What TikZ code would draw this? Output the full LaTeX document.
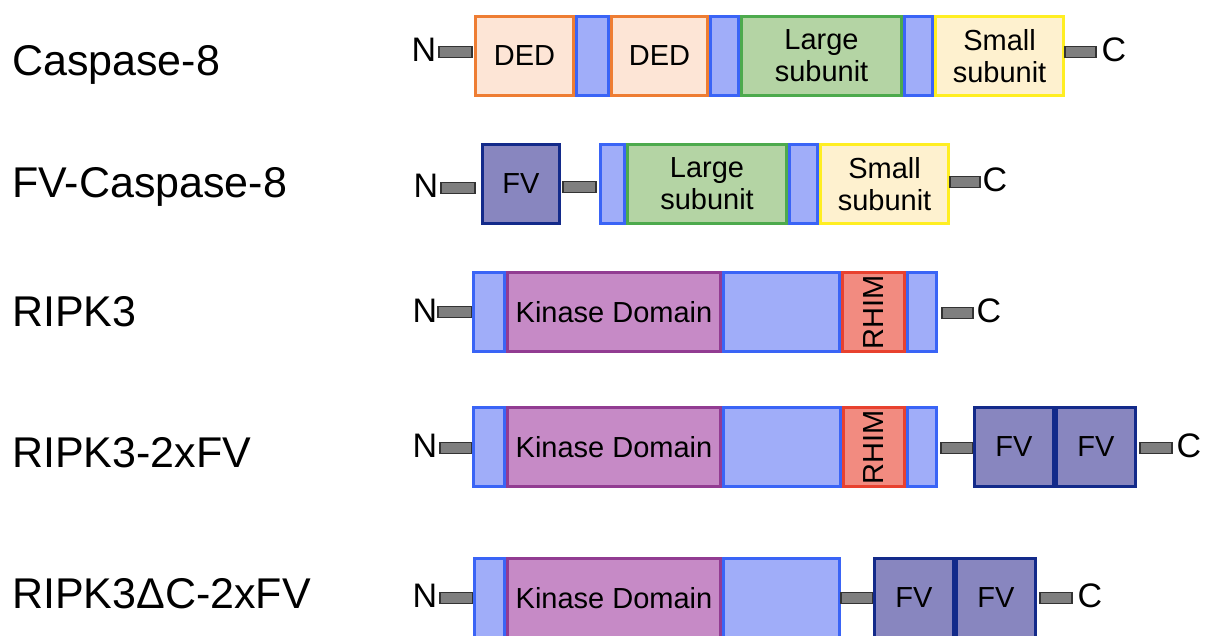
\documentclass[tikz,border=0pt]{standalone}
\usepackage{fontspec}
\setmainfont{Liberation Sans}

\definecolor{dedfill}{HTML}{FDE5D6}
\definecolor{dedline}{HTML}{EE7D33}
\definecolor{lnkfill}{HTML}{A0ADF9}
\definecolor{lnkline}{HTML}{3A64F6}
\definecolor{lrgfill}{HTML}{B4D4A4}
\definecolor{lrgline}{HTML}{4DAA4D}
\definecolor{smlfill}{HTML}{FEF1CF}
\definecolor{smlline}{HTML}{FFEE22}
\definecolor{fvfill}{HTML}{8886BF}
\definecolor{fvline}{HTML}{132A8A}
\definecolor{kinfill}{HTML}{C68AC6}
\definecolor{kinline}{HTML}{923C92}
\definecolor{rhimfill}{HTML}{F28B80}
\definecolor{rhimline}{HTML}{E8412F}
\definecolor{stubfill}{HTML}{7F7F7F}
\definecolor{stubline}{HTML}{333333}

\tikzset{
  dom/.style={draw, line width=3pt, inner sep=0pt, minimum height=79pt,
    align=center, font=\fontsize{29}{32}\selectfont},
  ded/.style={dom, draw=dedline, fill=dedfill},
  lnk/.style={dom, draw=lnkline, fill=lnkfill},
  lrg/.style={dom, draw=lrgline, fill=lrgfill},
  sml/.style={dom, draw=smlline, fill=smlfill},
  fv/.style={dom, draw=fvline, fill=fvfill},
  kin/.style={dom, draw=kinline, fill=kinfill},
  rhim/.style={dom, draw=rhimline, fill=rhimfill},
  stubbar/.style={draw=stubline, fill=stubfill, line width=1.3pt,
    minimum height=11pt, inner sep=0pt},
  term/.style={font=\fontsize{34}{34}\selectfont, inner sep=0pt},
  protname/.style={font=\fontsize{43}{43}\selectfont, anchor=base west, inner sep=0pt},
}

% domain box spanning x1..x2 (outer edges), centred on row y
\newcommand\dombox[6]{%
  \node[#2, minimum width={(#4-#3-3)*1pt}] (#1) at ({(#3+#4)/2},#5) {#6};}
% short grey linker bar spanning x1..x2
\newcommand\stubbar[4]{%
  \node[stubbar, minimum width={(#3-#2)*1pt}] (#1) at ({(#2+#3)/2},#4) {};}

\begin{document}
\begin{tikzpicture}[x=1pt, y=-1pt]
\clip (0,0) rectangle (1206,635);
\fill[white] (0,0) rectangle (1206,635);

% ---------- Caspase-8 ----------
\node[protname] (l1) at (12,75) {Caspase-8};
\node[term] (n1) at (424,50) {N};
\stubbar{s1a}{439}{472}{52}
\dombox{a1}{ded}{474}{575}{56}{DED}
\dombox{a2}{lnk}{575}{610}{56}{}
\dombox{a3}{ded}{610}{709}{56}{DED}
\dombox{a4}{lnk}{709}{740}{56}{}
\dombox{a5}{lrg}{740}{903}{56}{Large\\subunit}
\dombox{a6}{lnk}{903}{934}{56}{}
\dombox{a7}{sml}{934}{1065}{56}{Small\\subunit}
\stubbar{s1b}{1065}{1096}{52}
\node[term] (c1) at (1114,50) {C};

% ---------- FV-Caspase-8 ----------
\node[protname] (l2) at (12,197) {FV-Caspase-8};
\node[term] (n2) at (426,186) {N};
\stubbar{s2a}{441}{475}{188}
\dombox{b1}{fv}{481}{561}{184}{FV}
\stubbar{s2b}{563}{596}{187}
\dombox{b2}{lnk}{599}{626}{184}{}
\dombox{b3}{lrg}{626}{788}{184}{Large\\subunit}
\dombox{b4}{lnk}{788}{819}{184}{}
\dombox{b5}{sml}{819}{950}{184}{Small\\subunit}
\stubbar{s2c}{950}{980}{182}
\node[term] (c2) at (995,180) {C};

% ---------- RIPK3 ----------
\node[protname] (l3) at (12,326) {RIPK3};
\node[term] (n3) at (425,311) {N};
\stubbar{s3a}{438}{472}{312}
\dombox{r1}{lnk}{472}{506}{312}{}
\dombox{r2}{kin}{506}{722}{312}{Kinase Domain}
\dombox{r3}{lnk}{722}{841}{312}{}
\dombox{r4}{rhim}{841}{906}{312}{\rotatebox{90}{RHIM}}
\dombox{r5}{lnk}{906}{938}{312}{}
\stubbar{s3b}{942}{973}{313}
\node[term] (c3) at (989,311) {C};

% ---------- RIPK3-2xFV ----------
\node[protname] (l4) at (12,467) {RIPK3-2xFV};
\node[term] (n4) at (425,446) {N};
\stubbar{s4a}{440}{472}{448}
\dombox{q1}{lnk}{472}{506}{447}{}
\dombox{q2}{kin}{506}{722}{447}{Kinase Domain}
\dombox{q3}{lnk}{722}{842}{447}{}
\dombox{q4}{rhim}{842}{906}{447}{\rotatebox{90}{RHIM}}
\dombox{q5}{lnk}{906}{938}{447}{}
\stubbar{s4b}{941}{973}{448}
\dombox{q6}{fv}{973}{1055}{447}{FV}
\dombox{q7}{fv}{1055}{1137}{447}{FV}
\stubbar{s4c}{1140}{1172}{448}
\node[term] (c4) at (1189,446) {C};

% ---------- RIPK3 deltaC-2xFV ----------
\node[protname] (l5) at (12,608) {RIPK3ΔC-2xFV};
\node[term] (n5) at (425,596) {N};
\stubbar{s5a}{440}{473}{598}
\dombox{d1}{lnk}{473}{506}{598}{}
\dombox{d2}{kin}{506}{722}{598}{Kinase Domain}
\dombox{d3}{lnk}{722}{841}{598}{}
\stubbar{s5b}{841}{873}{598}
\dombox{d4}{fv}{873}{955}{598}{FV}
\dombox{d5}{fv}{955}{1037}{598}{FV}
\stubbar{s5c}{1040}{1072}{598}
\node[term] (c5) at (1090,596) {C};
\end{tikzpicture}
\end{document}
